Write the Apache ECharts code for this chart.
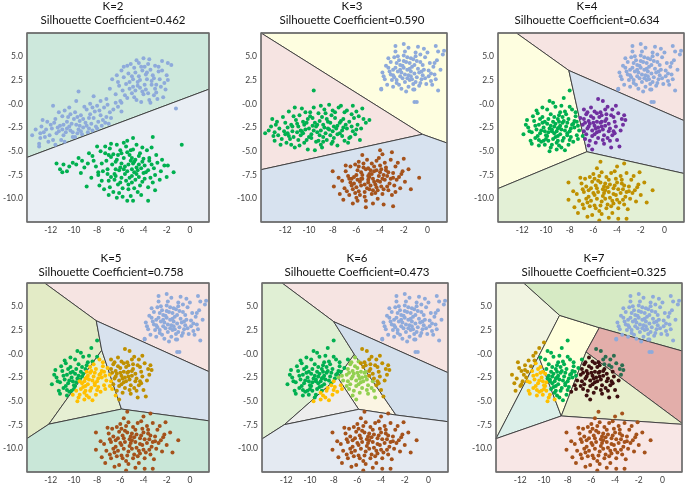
<!DOCTYPE html>
<html><head><meta charset="utf-8">
<script src="https://cdn.jsdelivr.net/npm/echarts@6/dist/echarts.min.js"></script>
<style>html,body{margin:0;padding:0;background:#fff}#c{width:685px;height:487px}</style>
</head><body><div id="c"></div>
<script>
// ---------- tick labels / titles ----------
const xTicks = [-12,-10,-8,-6,-4,-2,0];
const yTicks = [-10,-7.5,-5,-2.5,0,2.5,5];
const kLabels = ['K=2','K=3','K=4','K=5','K=6','K=7'];
const silhouette = ['0.462','0.590','0.634','0.758','0.473','0.325'];

// ---------- point clouds ----------
const blue2 = [[-4.5,2.3],[-3.8,3.1],[-5.2,1.6],[-4.0,1.0],[-5.7,2.8],[-3.3,2.0],[-4.8,3.8],[-2.7,3.4],[-5.4,0.6],[-3.6,4.2],
[-4.3,1.7],[-6.1,1.9],[-2.9,1.2],[-4.9,2.6],[-3.5,0.4],[-5.9,3.5],[-2.4,4.5],[-4.1,3.5],[-5.0,1.1],[-3.1,2.7],
[-6.4,1.0],[-3.9,2.0],[-4.6,4.6],[-2.2,2.2],[-5.5,2.1],[-3.4,3.6],[-4.2,0.2],[-6.7,2.6],[-2.8,0.5],[-4.7,1.4],
[-3.7,2.6],[-5.3,3.2],[-2.0,3.0],[-4.4,2.9],[-6.0,0.3],[-3.0,4.0],[-5.1,4.2],[-3.8,1.5],[-4.8,0.7],[-2.5,1.8],
[-5.8,1.4],[-3.2,3.0],[-4.0,4.8],[-6.3,3.0],[-2.6,2.6],[-4.5,1.9],[-3.6,1.1],[-5.6,0.9],[-1.9,4.3],[-4.2,3.9],
[-3.3,2.4],[-5.0,2.9],[-2.3,0.7],[-4.6,0.4],[-3.9,3.9],[-6.9,1.6],[-2.9,2.0],[-5.2,2.3],[-3.5,4.7],[-4.3,2.5],
[-2.1,1.5],[-5.7,3.9],[-3.1,0.9],[-4.9,1.8],[-3.7,3.3],[-6.2,2.3],[-2.7,3.9],[-4.1,1.3],[-5.4,4.0],[-1.9,2.5],
[-7.2,0.5],[-4.7,3.3],[-3.0,1.6],[-5.9,0.1],[-3.4,0.1],[-2.4,3.5],[-4.4,4.3],[-1.6,4.1],[-1.2,-0.5],
[-10.4,-2.4],[-11.3,-2.9],[-9.5,-1.8],[-12.0,-2.2],[-8.7,-1.5],[-10.9,-3.3],[-9.9,-0.9],[-12.6,-3.0],[-8.2,-0.8],[-11.6,-1.6],
[-10.1,-3.5],[-7.7,-1.2],[-12.9,-3.6],[-9.2,-2.5],[-11.0,-1.3],[-8.5,-2.1],[-10.6,-1.9],[-13.3,-2.7],[-7.4,-0.4],[-9.7,-3.1],
[-11.8,-3.8],[-8.9,-0.6],[-10.3,-2.8],[-12.3,-1.9],[-7.9,-1.9],[-9.4,-1.2],[-11.4,-2.5],[-8.4,-2.8],[-10.8,-0.7],[-12.8,-2.4],
[-7.2,-1.4],[-9.0,-2.0],[-11.1,-3.8],[-9.8,-2.2],[-8.0,-0.2],[-12.1,-3.3],[-10.5,-1.4],[-7.6,-2.3],[-9.3,-3.2],[-11.7,-2.0],
[-8.7,-2.6],[-10.0,-1.6],[-13.0,-4.2],[-6.9,-0.9],[-9.6,-2.7],[-11.2,-2.3],[-8.3,-1.5],[-10.7,-3.0],[-12.4,-2.7],[-7.1,-0.1],
[-9.1,-0.3],[-11.5,-3.1],[-8.8,-3.0],[-10.2,-2.1],[-12.7,-1.7],[-7.8,-0.7],[-9.4,-2.9],[-10.9,-2.2],[-8.1,-2.4],[-11.9,-2.6],
[-6.6,-0.6],[-9.9,-3.5],[-10.4,-0.4],[-8.6,-1.1],[-12.2,-4.0],[-7.5,-1.7],[-9.7,-1.4],[-11.3,-0.9],[-8.9,-2.3],[-10.6,-2.6],
[-13.6,-3.3],[-7.3,-2.0],[-9.2,-1.6],[-11.0,-2.7],[-8.4,-0.4],[-10.1,-3.0],[-12.5,-3.5],[-6.8,-1.5],[-9.5,-2.3],[-11.6,-4.3],
[-8.0,-2.6],[-10.3,-1.1],[-12.9,-3.1],[-7.0,-2.1],[-9.8,0.3],[-6.4,0.1],[-11.8,-0.2],[-9.6,1.3],[-8.6,0.0],[-6.2,-0.3],
[-13.0,-4.5],[-10.8,-4.0],[-7.7,0.3],[-5.9,-0.8],[-8.3,0.8]];

const green2 = [[-5.6,-6.6],[-6.3,-5.9],[-4.8,-7.2],[-7.1,-6.9],[-4.1,-6.1],[-5.9,-7.8],[-5.2,-5.4],[-6.8,-5.6],[-3.6,-7.0],[-5.0,-8.3],
[-6.5,-7.4],[-4.4,-5.5],[-7.6,-6.3],[-5.4,-7.1],[-3.9,-7.9],[-6.0,-4.9],[-4.6,-6.7],[-7.9,-7.5],[-5.1,-6.0],[-3.3,-6.4],
[-6.2,-8.5],[-4.3,-8.6],[-7.3,-5.2],[-5.7,-5.7],[-3.0,-7.5],[-6.7,-6.4],[-4.9,-4.8],[-8.3,-6.0],[-5.3,-9.0],[-4.0,-7.3],
[-6.1,-7.0],[-3.5,-5.7],[-7.0,-8.1],[-5.5,-4.5],[-4.5,-9.3],[-8.7,-5.2],[-6.4,-6.1],[-2.8,-6.2],[-5.8,-8.9],[-4.2,-6.8],
[-7.5,-7.1],[-5.0,-7.6],[-3.7,-4.9],[-6.6,-9.3],[-4.7,-5.9],[-9.1,-6.7],[-5.9,-6.3],[-3.2,-8.3],[-6.9,-4.7],[-4.4,-7.7],
[-5.4,-5.1],[-7.8,-8.6],[-2.5,-7.1],[-6.2,-5.4],[-4.8,-8.9],[-8.0,-4.5],[-5.6,-7.4],[-3.9,-6.5],[-7.2,-6.0],[-5.1,-9.7],
[-6.5,-8.0],[-3.4,-7.8],[-9.6,-5.7],[-4.6,-4.3],[-5.7,-6.9],[-7.4,-9.0],[-4.1,-8.2],[-6.0,-6.7],[-2.9,-5.4],[-8.5,-7.8],
[-5.3,-6.4],[-4.3,-5.2],[-6.8,-7.7],[-5.0,-5.7],[-3.6,-8.8],[-7.7,-5.0],[-5.8,-9.8],[-4.9,-6.3],[-6.3,-4.3],[-3.1,-6.8],
[-10.1,-6.2],[-5.5,-8.1],[-4.5,-7.0],[-7.1,-7.4],[-2.2,-6.5],[-6.1,-9.4],[-4.0,-5.8],[-8.9,-8.7],[-5.2,-7.8],[-6.6,-5.3],
[-3.8,-7.2],[-5.9,-5.2],[-4.7,-8.0],[-7.6,-8.1],[-3.3,-4.6],[-6.4,-6.9],[-5.4,-10.2],[-4.2,-9.6],[-8.1,-6.6],[-5.7,-4.1],
[-2.6,-8.0],[-6.9,-8.8],[-4.8,-6.1],[-9.4,-7.3],[-5.0,-6.9],[-3.5,-6.0],[-7.0,-5.4],[-6.0,-8.3],[-4.4,-6.4],[-8.4,-5.5],
[-11.5,-6.3],[-11.2,-6.9],[-10.6,-7.1],[-10.9,-6.4],[-11.0,-7.2],[-10.4,-6.6],[-9.8,-6.4],[-9.3,-6.0],[-0.7,-4.3],[-1.4,-7.2],
[-1.9,-6.5],[-2.0,-7.7],[-4.9,-3.6],[-5.4,-3.9],[-3.6,-10.2],[-4.9,-10.2],[-6.3,-9.9],[-7.0,-9.6],[-3.2,-3.5],[-6.8,-4.2],
[-5.1,-4.9],[-4.1,-4.6],[-7.3,-4.5],[-8.8,-6.3],[-2.4,-5.9],[-3.0,-9.1],[-7.9,-7.2],[-6.4,-7.6],[-4.6,-7.4],[-5.3,-8.5]];

const blueTop = [[-1.7,3.6],[-2.3,4.1],[-1.1,3.2],[-0.6,4.4],[-2.9,3.0],[-1.5,2.5],[-2.0,5.1],[-0.9,2.8],[-3.3,3.8],[-1.2,4.7],
[0.1,3.5],[-2.6,2.2],[-1.9,3.1],[-0.4,3.0],[-2.4,4.6],[-1.0,5.4],[-3.6,2.6],[-0.2,4.9],[-1.6,1.8],[-2.8,4.9],
[0.5,3.9],[-1.3,3.9],[-2.1,2.7],[-0.7,1.9],[-3.1,4.4],[-1.8,4.4],[0.3,2.4],[-2.5,3.4],[-0.3,5.8],[-1.4,3.4],
[-3.8,3.3],[-2.2,1.6],[0.8,4.6],[-1.0,2.3],[-2.7,5.5],[-0.1,2.1],[-1.6,5.9],[-3.4,2.0],[0.6,3.1],[-2.0,3.8],
[-0.8,3.7],[-2.9,3.6],[-1.2,1.5],[0.2,4.3],[-3.0,2.5],[-1.7,4.9],[-0.5,2.6],[-2.3,2.9],[1.1,3.6],[-1.9,2.3],
[-0.6,5.2],[-3.5,4.0],[-1.4,2.9],[-2.6,4.3],[0.0,5.4],[-1.1,4.1],[-2.2,3.3],[-0.3,3.6],[-3.9,1.5],[-1.5,4.3],
[0.4,2.0],[-2.8,2.8],[-0.9,4.5],[-1.8,1.3],[-2.5,5.0],[0.9,5.5],[-1.3,2.6],[-3.2,3.4],[-0.2,2.7],[-2.0,4.5],
[-0.7,3.3],[-1.6,3.0],[-2.4,2.0],[0.7,2.6],[-3.7,2.9],[-1.0,5.0],[-2.1,4.0],[-0.4,4.1],[-1.9,5.5],[0.3,3.2],
[-2.7,3.8],[-1.2,2.1],[-0.6,2.2],[-3.3,4.8],[-1.5,3.7],[0.6,4.3],[-2.3,3.6],[-0.8,6.0],[-1.7,2.7],[-2.9,1.8],
[0.1,2.9],[-1.4,4.8],[-2.6,2.5],[-0.5,3.4],[-3.1,3.1],[-2.0,6.3],[0.7,6.1],[-1.1,1.5],[1.3,5.2],[-3.9,1.6],
[-1.1,0.2],[-0.9,0.2],[0.9,1.4],[-2.7,6.1],[1.4,5.6]];

const green3 = [[-9.4,-2.4],[-10.6,-2.9],[-8.2,-2.0],[-11.8,-3.1],[-7.1,-1.6],[-9.9,-1.3],[-8.8,-3.5],[-12.5,-2.6],[-6.4,-2.4],[-10.2,-3.8],
[-7.8,-0.9],[-11.1,-1.7],[-9.0,-2.8],[-5.8,-1.3],[-12.9,-3.9],[-8.5,-1.6],[-10.8,-4.4],[-7.4,-3.1],[-9.6,-0.4],[-11.5,-2.2],
[-6.8,-0.7],[-8.0,-4.0],[-10.0,-2.6],[-13.1,-1.6],[-7.6,-2.3],[-9.2,-3.9],[-11.3,-3.5],[-6.1,-3.2],[-8.7,-0.6],[-10.5,-1.9],
[-12.2,-1.4],[-5.5,-0.5],[-9.8,-3.2],[-7.2,-2.8],[-8.4,-2.6],[-11.9,-4.1],[-6.6,-1.9],[-10.3,-0.9],[-9.1,-1.8],[-12.6,-3.3],
[-7.9,-3.6],[-5.2,-2.0],[-10.9,-2.4],[-8.9,-4.6],[-6.3,-0.2],[-11.4,-2.9],[-9.5,-2.0],[-7.0,-3.9],[-13.4,-2.8],[-8.1,-1.2],
[-10.1,-4.8],[-6.0,-2.7],[-11.7,-0.8],[-9.3,-3.0],[-7.5,-0.4],[-12.0,-2.0],[-8.6,-3.1],[-5.7,-3.8],[-10.7,-3.3],[-9.7,-1.5],
[-6.9,-2.2],[-11.2,-4.6],[-8.3,-0.1],[-12.8,-2.2],[-7.3,-1.8],[-9.0,-4.3],[-10.4,-2.2],[-6.5,-3.5],[-11.6,-3.7],[-8.0,-2.9],
[-9.9,-0.9],[-5.4,-1.6],[-13.0,-3.4],[-7.7,-2.6],[-10.8,-1.2],[-8.8,-2.2],[-6.2,-1.5],[-11.0,-3.0],[-9.4,-4.0],[-7.0,-0.9],
[-12.3,-3.7],[-8.5,-3.8],[-10.1,-1.6],[-6.7,-4.1],[-9.6,-2.8],[-11.8,-2.5],[-7.4,-2.0],[-8.2,-3.3],[-13.7,-3.1],[-5.9,-2.2],
[-10.6,-0.5],[-9.2,-1.0],[-7.6,-4.4],[-12.1,-2.9],[-8.7,-2.5],[-6.4,-1.1],[-11.3,-1.3],[-9.8,-3.6],[-7.2,-3.4],[-10.3,-2.7],
[-8.4,-1.9],[-12.7,-1.9],[-6.0,-0.8],[-9.5,-4.9],[-10.9,-3.8],[-7.8,-1.5],[-11.5,-4.3],[-8.9,-1.4],[-4.9,-1.7],[-9.6,1.4],
[-10.0,-3.5],[-6.8,-2.6],[-12.4,-4.3],[-8.1,-4.2],[-11.0,-2.1],[-7.3,-0.2],[-9.3,-2.2],[-10.7,-2.8],[-6.3,-2.9],[-8.6,-1.0],
[-13.2,-2.4],[-9.1,-3.3],[-7.9,-2.4],[-11.2,-0.4],[-10.4,-4.1],[-5.6,-2.6],[-8.3,-2.7],[-12.0,-3.2],[-9.0,-0.2],[-7.1,-2.5],
[-10.2,-2.0],[-11.7,-3.4],[-6.6,-3.6],[-8.8,-4.0],[-9.7,-2.3],[-12.9,-3.0],[-7.6,-3.2],[-10.5,-3.1],[-8.0,-0.7],[-11.4,-2.4]];

const brown3 = [[-4.9,-7.7],[-5.6,-7.2],[-4.2,-8.1],[-6.2,-8.4],[-3.5,-7.0],[-5.1,-8.9],[-4.5,-6.6],[-6.7,-7.6],[-3.9,-8.7],[-5.4,-6.3],
[-5.9,-7.0],[-3.1,-7.9],[-4.7,-9.5],[-5.8,-9.2],[-2.7,-6.6],[-4.3,-6.0],[-6.4,-7.9],[-3.7,-7.5],[-5.0,-8.3],[-7.0,-8.9],
[-4.0,-7.2],[-5.5,-7.9],[-3.3,-9.1],[-6.1,-6.4],[-2.4,-7.7],[-4.6,-9.1],[-5.2,-6.9],[-6.6,-9.6],[-3.6,-6.2],[-4.2,-10.0],
[-5.6,-8.6],[-2.9,-7.3],[-5.9,-8.0],[-4.4,-8.5],[-6.9,-7.1],[-3.2,-8.4],[-4.9,-7.4],[-2.1,-7.1],[-6.3,-9.0],[-4.0,-6.5],
[-5.3,-9.8],[-3.7,-9.0],[-6.0,-7.5],[-4.6,-7.9],[-2.8,-8.6],[-5.1,-5.9],[-7.2,-8.1],[-3.9,-6.9],[-5.7,-8.2],[-3.4,-7.6],
[-6.5,-6.6],[-4.3,-8.8],[-4.8,-7.0],[-2.5,-6.2],[-5.9,-10.2],[-3.0,-9.6],[-5.5,-7.5],[-4.1,-7.6],[-6.8,-9.2],[-3.8,-9.5],
[-5.3,-9.3],[-4.7,-6.3],[-1.9,-8.2],[-6.2,-7.7],[-3.5,-6.7],[-5.0,-7.6],[-4.4,-9.4],[-7.5,-7.8],[-3.1,-5.9],[-5.7,-9.6],
[-4.0,-8.2],[-5.8,-6.1],[-2.6,-8.0],[-4.8,-8.6],[-6.4,-8.6],[-3.3,-7.2],[-4.6,-10.5],[-5.4,-6.7],[-2.3,-8.9],[-6.1,-9.4],
[-4.1,-5.7],[-3.6,-8.0],[-5.2,-10.2],[-6.9,-6.5],[-4.5,-7.1],[-1.6,-6.9],[-5.8,-6.6],[-2.9,-7.8],[-6.6,-7.9],[-4.2,-9.1],
[-5.0,-8.0],[-3.4,-8.7],[-6.0,-8.8],[-2.2,-7.4],[-4.7,-7.4],[-5.2,-10.9],[-2.9,-10.8],[-0.7,-7.8],[-8.0,-7.1],[-7.9,-8.7],
[-4.0,-4.9],[-3.0,-5.1],[-7.1,-10.1],[-6.3,-10.5],[-2.0,-5.8],[-3.8,-5.3],[-7.4,-9.5],[-1.4,-9.0],[-5.5,-5.4],[-3.7,-10.6],
[-4.9,-9.0],[-5.6,-7.9],[-3.8,-7.9],[-6.5,-8.3],[-4.3,-7.0],[-5.3,-8.5],[-2.7,-9.3],[-6.0,-9.9],[-4.5,-8.2],[-5.0,-6.8]];

const leftBlob = [[-9.3,-2.4],[-8.6,-2.0],[-10.1,-2.9],[-9.8,-1.6],[-8.2,-3.1],[-10.6,-2.2],[-9.0,-3.4],[-7.6,-1.8],[-11.2,-3.0],[-8.9,-1.2],
[-9.5,-2.9],[-10.3,-1.4],[-7.9,-2.6],[-8.4,-0.8],[-10.9,-3.6],[-9.1,-4.1],[-7.4,-3.3],[-9.9,-0.6],[-11.5,-2.5],[-8.7,-2.7],
[-10.0,-3.3],[-9.4,-1.9],[-8.1,-1.6],[-10.7,-1.0],[-7.7,-4.0],[-9.6,-4.6],[-8.5,-3.6],[-11.0,-1.8],[-9.2,-0.3],[-10.4,-4.0],
[-7.3,-2.3],[-8.8,-2.3],[-9.7,-2.6],[-10.5,-3.1],[-8.3,-2.4],[-11.9,-3.2],[-9.0,-1.6],[-7.8,-0.6],[-10.2,-2.5],[-8.0,-3.8],
[-9.4,-3.7],[-10.8,-2.7],[-8.6,-1.4],[-9.1,-2.9],[-7.5,-1.3],[-11.3,-3.9],[-9.8,-3.9],[-8.9,-4.4],[-10.1,-1.9],[-8.2,-2.0],
[-9.6,-1.1],[-7.2,-2.8],[-10.6,-4.4],[-8.4,-4.9],[-11.6,-1.7],[-9.3,-3.1],[-8.0,-2.9],[-9.9,-2.1],[-10.3,-0.4],[-7.9,-3.5],
[-8.7,-0.2],[-9.5,-4.3],[-10.9,-2.3],[-8.8,-3.2],[-7.6,-2.5],[-9.2,-2.1],[-10.0,-3.7],[-11.1,-1.3],[-8.5,-1.8],[-9.7,-5.0],
[-8.1,-4.3],[-10.4,-2.8],[-9.0,-2.6],[-7.4,-1.9],[-10.7,-3.4],[-8.3,-1.1],[-9.8,-3.0],[-11.4,-2.9],[-8.9,-1.9],[-9.4,0.1],
[-7.7,-2.1],[-10.2,-3.9],[-8.6,-3.9],[-9.1,-4.8],[-10.5,-1.6],[-8.0,-0.3],[-9.6,-2.3],[-11.7,-2.2],[-8.4,-2.8],[-7.3,-3.7],
[-9.3,-1.4],[-10.1,-4.3],[-8.8,-0.9],[-9.9,-3.4],[-7.8,-2.2],[-10.8,-0.7],[-8.2,-3.3],[-9.0,-3.9],[-8.0,1.4],[-9.7,0.3],
[-7.5,-0.9],[-10.3,-2.0],[-8.7,-4.6],[-11.2,-4.2],[-9.5,-2.7],[-7.1,-1.5],[-8.5,0.6],[-10.6,-3.8],[-9.2,-3.5],[-8.9,-2.5]];

const midBlob = [[-5.9,-2.3],[-6.4,-1.8],[-5.2,-2.7],[-6.8,-2.9],[-5.5,-1.4],[-4.7,-2.1],[-6.1,-3.4],[-5.0,-0.6],[-6.6,-1.1],[-4.3,-2.9],
[-5.7,-3.0],[-6.9,-2.2],[-5.3,-1.9],[-4.8,-3.6],[-6.2,-0.4],[-3.6,-1.6],[-5.8,-4.1],[-4.5,-1.2],[-6.5,-2.6],[-5.1,-3.3],
[-6.0,-1.5],[-4.1,-2.4],[-5.4,-0.9],[-6.7,-3.7],[-3.3,-1.7],[-5.6,-2.5],[-4.9,-1.6],[-6.3,-2.1],[-5.2,0.3],[-4.4,-3.3],
[-6.1,-2.8],[-5.0,-2.3],[-6.8,-1.6],[-3.9,-1.0],[-5.6,-3.6],[-4.6,-2.6],[-6.4,-4.4],[-5.3,-1.2],[-4.2,-1.9],[-5.9,-0.8],
[-6.6,-3.2],[-4.8,-0.3],[-5.5,-2.9],[-3.7,-2.8],[-6.2,-1.3],[-5.1,-4.2],[-4.4,-0.6],[-6.9,-3.4],[-5.7,-1.9],[-4.0,-3.8],
[-5.8,-2.6],[-6.3,-3.9],[-4.7,-2.9],[-5.4,-2.0],[-3.5,-2.2],[-6.0,-2.0],[-5.2,-3.8],[-4.5,-4.6],[-6.5,-0.9],[-5.6,0.5],
[-4.9,-1.1],[-6.1,-4.8],[-3.4,-1.2],[-5.3,-2.4],[-6.7,-2.0],[-4.3,-1.4],[-5.9,-3.2],[-4.6,-3.9],[-5.0,-1.8],[-6.4,-2.4],
[-3.8,-4.5],[-4.1,-0.2],[-5.7,-1.0],[-6.8,-0.6],[-4.2,-3.1]];

const bottomBlob = [[-5.0,-9.1],[-5.8,-8.6],[-4.3,-9.5],[-6.4,-9.8],[-3.6,-8.4],[-5.3,-10.3],[-4.7,-8.0],[-6.9,-9.0],[-4.0,-10.1],[-5.5,-7.6],
[-6.1,-8.2],[-3.2,-9.3],[-4.9,-11.0],[-5.9,-10.7],[-2.8,-8.0],[-4.5,-7.3],[-6.6,-8.7],[-3.9,-9.0],[-5.2,-9.7],[-7.2,-10.2],
[-4.2,-8.6],[-5.6,-9.3],[-3.4,-10.6],[-6.3,-7.7],[-2.5,-9.1],[-4.8,-10.6],[-5.4,-8.3],[-6.8,-11.0],[-3.7,-7.6],[-4.4,-11.5],
[-5.7,-10.0],[-3.0,-8.7],[-6.0,-9.4],[-4.6,-9.9],[-7.0,-8.4],[-3.3,-9.8],[-5.1,-8.7],[-2.2,-8.5],[-6.5,-10.4],[-4.1,-7.9],
[-5.5,-11.3],[-3.8,-10.4],[-6.2,-8.9],[-4.7,-9.3],[-2.9,-10.0],[-5.3,-7.2],[-7.4,-9.5],[-4.0,-8.3],[-5.9,-9.6],[-3.5,-9.0],
[-6.7,-7.9],[-4.4,-10.2],[-5.0,-8.4],[-2.6,-7.6],[-6.1,-11.7],[-3.1,-11.1],[-5.7,-8.9],[-4.3,-8.9],[-6.9,-10.6],[-3.9,-11.0],
[-5.4,-10.7],[-4.9,-7.7],[-2.0,-9.6],[-6.4,-9.1],[-3.6,-8.0],[-5.2,-9.0],[-4.5,-10.8],[-7.7,-9.2],[-3.2,-7.3],[-5.8,-11.0],
[-4.1,-9.6],[-6.0,-7.4],[-2.7,-9.4],[-5.0,-10.0],[-6.6,-10.0],[-3.4,-8.6],[-4.7,-12.0],[-5.6,-8.1],[-2.4,-10.3],[-6.3,-10.8],
[-4.2,-7.1],[-3.7,-9.4],[-5.3,-11.6],[-7.1,-7.8],[-4.6,-8.5],[-1.7,-8.3],[-5.9,-7.9],[-3.0,-9.2],[-6.8,-9.3],[-4.3,-10.5],
[-5.1,-9.4],[-3.5,-10.1],[-6.2,-10.2],[-2.3,-8.8],[-4.8,-8.8],[-5.5,-12.3],[-3.2,-12.1],[-1.0,-9.1],[-8.1,-8.3],[-8.1,-10.1],
[-5.4,-6.1],[-3.4,-6.3],[-7.3,-11.5],[-6.5,-11.9],[-2.1,-7.2],[-4.0,-6.6],[-7.6,-10.9],[-1.5,-10.4],[-5.7,-6.8],[-3.9,-12.1]];

const k7West = [[-12.7,-2.2],[-12.3,-2.6],[-12.0,-3.4],[-11.9,-1.8],[-12.4,-3.9],[-11.6,-1.2],[-11.3,-0.7],[-10.9,-0.2],
[-10.4,0.6],[-10.0,1.2],[-12.1,-1.5],[-11.8,-2.9],[-12.5,-3.1],[-11.4,-1.9],[-10.7,0.1],[-12.2,-0.9]];

// ---------- cluster cells (vertices in data units) ----------
const k2Cells = [
  [[-14.05,7.46],[1.65,7.46],[1.65,1.54],[-14.05,-5.65]],
  [[-14.05,-5.65],[1.65,1.54],[1.65,-12.45],[-14.05,-12.45]]];
const k3Cells = [
  [[-14.05,7.46],[1.65,7.46],[1.65,-4.13],[-0.43,-3.21]],
  [[-14.05,7.46],[-0.43,-3.21],[-14.05,-6.94]],
  [[-14.05,-6.94],[-0.43,-3.21],[1.65,-4.13],[1.65,-12.45],[-14.05,-12.45]]];
const k4Cells = [
  [[-12.5,7.46],[1.65,7.46],[1.65,-1.77],[-8.07,3.51]],
  [[-14.05,7.46],[-12.5,7.46],[-8.07,3.51],[-6.55,-5.05],[-14.05,-8.93]],
  [[-8.07,3.51],[1.65,-1.77],[1.65,-7.34],[-6.55,-5.05]],
  [[-14.05,-8.93],[-6.55,-5.05],[1.65,-7.34],[1.65,-12.45],[-14.05,-12.45]]];
const k5Cells = [
  [[-12.53,7.46],[1.65,7.46],[1.65,-1.88],[-8.07,3.48]],
  [[-14.05,7.46],[-12.53,7.46],[-8.07,3.48],[-7.6,0.38],[-12.16,-7.41],[-14.05,-8.93]],
  [[-7.6,0.38],[-5.9,-5.82],[-12.16,-7.41]],
  [[-8.07,3.48],[1.65,-1.88],[1.65,-7.06],[-5.9,-5.82],[-7.6,0.38]],
  [[-14.05,-8.93],[-12.16,-7.41],[-5.9,-5.82],[1.65,-7.06],[1.65,-12.45],[-14.05,-12.45]]];
const k6Cells = [
  [[-12.36,7.46],[1.65,7.46],[1.65,-1.99],[-8.0,3.39]],
  [[-14.05,7.46],[-12.36,7.46],[-8.0,3.39],[-6.26,-0.05],[-7.66,-2.51],[-12.16,-7.46],[-14.05,-8.97]],
  [[-6.26,-0.05],[-2.74,-6.45],[-5.89,-5.85],[-7.66,-2.51]],
  [[-7.66,-2.51],[-5.89,-5.85],[-12.16,-7.46]],
  [[-8.0,3.39],[1.65,-1.99],[1.65,-7.15],[-2.74,-6.45],[-6.26,-0.05]],
  [[-14.05,-8.97],[-12.16,-7.46],[-5.89,-5.85],[-2.74,-6.45],[1.65,-7.15],[1.65,-12.45],[-14.05,-12.45]]];
const k7Cells = [
  [[-14.05,7.46],[-11.71,7.46],[-8.68,4.05],[-10.45,-0.27],[-14.05,-8.94]],
  [[-10.45,-0.27],[-8.54,-6.55],[-14.05,-8.94]],
  [[-8.68,4.05],[-5.33,2.75],[-6.45,0.19],[-8.54,-6.55],[-10.45,-0.27]],
  [[-11.71,7.46],[1.65,7.46],[1.65,0.3],[-5.33,2.75],[-8.68,4.05]],
  [[-5.33,2.75],[1.65,0.3],[1.65,-7.32],[-6.45,0.19]],
  [[-6.45,0.19],[1.65,-7.32],[1.65,-7.43],[-8.54,-6.55]],
  [[-14.05,-8.94],[-8.54,-6.55],[1.65,-7.43],[1.65,-12.45],[-14.05,-12.45]]];

// ---------- styles ----------
const C = {blue:'#8eaadb', green:'#00b050', brown:'#a5521b', gold:'#bf9000', purple:'#7030a0',
  orange:'#ffc000', lime:'#92d050', teal:'#2a6e50', dark:'#3d1010'};
const X_MIN=-14.05, X_MAX=1.65, Y_MIN=-12.45, Y_MAX=7.46;

const panels = [
 {cells:k2Cells, fills:['#cde8dc','#e9eef4'], pc:[C.blue,C.green],
  blobs:[[blue2,C.blue],[green2,C.green]], left:23, top:33, cx:113, ty:6},
 {cells:k3Cells, fills:['#fefee0','#f6e4e2','#d7e2ef'], pc:[C.blue,C.green,C.brown],
  blobs:[[blueTop,C.blue],[green3,C.green],[brown3,C.brown]], left:261, top:33, cx:352, ty:6},
 {cells:k4Cells, fills:['#f6e4e2','#fefee0','#d8e2ee','#e3f0d6'], pc:[C.blue,C.green,C.purple,C.gold],
  blobs:[[blueTop,C.blue],[leftBlob,null],[midBlob,null],[bottomBlob,C.gold]], left:498, top:33, cx:587, ty:6},
 {cells:k5Cells, fills:['#f6e4e2','#e3ebc6','#e6efd3','#d8e2ee','#c9e7d8'], pc:[C.blue,C.green,C.orange,C.gold,C.brown],
  blobs:[[blueTop,C.blue],[leftBlob,null],[midBlob,null],[bottomBlob,C.brown]], left:23, top:283, cx:111, ty:258},
 {cells:k6Cells, fills:['#f6e4e2','#e0efd4','#fbf5e3','#ededed','#d3dfec','#e4eaf2'], pc:[C.blue,C.green,C.lime,C.orange,C.gold,C.brown],
  blobs:[[blueTop,C.blue],[leftBlob,null],[midBlob,null],[bottomBlob,C.brown]], left:262, top:283, cx:357, ty:258},
 {cells:k7Cells, fills:['#f1f4e1','#dcefe9','#ffffdc','#d6eac4','#e3aeaa','#e8efce','#f8e7e6'], pc:[C.gold,C.orange,C.green,C.blue,C.teal,C.dark,C.brown],
  blobs:[[blueTop,C.blue],[leftBlob,null],[midBlob,null],[k7West,null],[bottomBlob,C.brown]], left:496, top:283, cx:594, ty:258}
];

function inPoly(p, poly){
  let inside=false;
  for(let i=0,j=poly.length-1;i<poly.length;j=i++){
    const xi=poly[i][0],yi=poly[i][1],xj=poly[j][0],yj=poly[j][1];
    if(((yi>p[1])!==(yj>p[1])) && (p[0] < (xj-xi)*(p[1]-yi)/(yj-yi)+xi)) inside=!inside;
  }
  return inside;
}

const FONT = 'Lato';
const grids=[], xAxes=[], yAxes=[], series=[], graphics=[];
panels.forEach((P,i)=>{
  grids.push({left:P.left, top:P.top, width:186, height:189});
  xAxes.push({gridIndex:i, type:'value', min:X_MIN, max:X_MAX,
    axisLine:{show:false}, splitLine:{show:false},
    axisTick:{show:true, customValues:xTicks, length:3, lineStyle:{color:'#404040'}},
    axisLabel:{customValues:xTicks, fontSize:8.5, color:'#404040', margin:4, fontFamily:FONT}});
  yAxes.push({gridIndex:i, type:'value', min:Y_MIN, max:Y_MAX,
    axisLine:{show:false}, splitLine:{show:false},
    axisTick:{show:true, customValues:yTicks, length:3, lineStyle:{color:'#404040'}},
    axisLabel:{customValues:yTicks, fontSize:8.5, color:'#404040', margin:4, fontFamily:FONT,
      formatter:v=> (Math.abs(v)<1e-9 ? '-0.0' : Number(v).toFixed(1))}});
  const cells=P.cells, fills=P.fills;
  series.push({type:'custom', xAxisIndex:i, yAxisIndex:i, z:1, silent:true, clip:false,
    data: cells.map((c,j)=>[c[0][0],c[0][1],j]),
    renderItem:(params,api)=>({type:'polygon',
      shape:{points: cells[params.dataIndex].map(v=>api.coord(v))},
      style:{fill:fills[params.dataIndex], stroke:'#3a3a3a', lineWidth:0.9}})});
  const groups = {};
  P.blobs.forEach(([pts,fixed])=>{
    pts.forEach(p=>{
      let col=fixed;
      if(!col){
        const k=cells.findIndex(c=>inPoly(p,c));
        col = P.pc[k>=0?k:0];
      }
      (groups[col]=groups[col]||[]).push(p);
    });
  });
  Object.keys(groups).forEach(col=>{
    series.push({type:'scatter', xAxisIndex:i, yAxisIndex:i, z:3, silent:true,
      symbol:'circle', symbolSize:4, itemStyle:{color:col, opacity:1}, data:groups[col]});
  });
  series.push({type:'custom', xAxisIndex:i, yAxisIndex:i, z:5, silent:true, clip:false,
    data:[[X_MIN,Y_MIN]],
    renderItem:(params,api)=>{
      const a=api.coord([X_MIN,Y_MAX]), b=api.coord([X_MAX,Y_MIN]);
      return {type:'rect', shape:{x:a[0],y:a[1],width:b[0]-a[0],height:b[1]-a[1]},
        style:{fill:null, stroke:'#6e6e6e', lineWidth:1.3}};
    }});
  graphics.push({type:'text', x:P.cx, y:P.ty, style:{text:kLabels[i], fontSize:11.5, fontFamily:FONT,
    fill:'#111', textAlign:'center', textVerticalAlign:'middle'}});
  graphics.push({type:'text', x:P.cx, y:P.ty+14.5, style:{text:'Silhouette Coefficient='+silhouette[i],
    fontSize:11.5, fontFamily:FONT, fill:'#111', textAlign:'center', textVerticalAlign:'middle'}});
});

const chart = echarts.init(document.getElementById('c'), null, {renderer:'canvas'});
chart.setOption({animation:false, backgroundColor:'#ffffff',
  grid:grids, xAxis:xAxes, yAxis:yAxes, series:series, graphic:graphics});
</script></body></html>
